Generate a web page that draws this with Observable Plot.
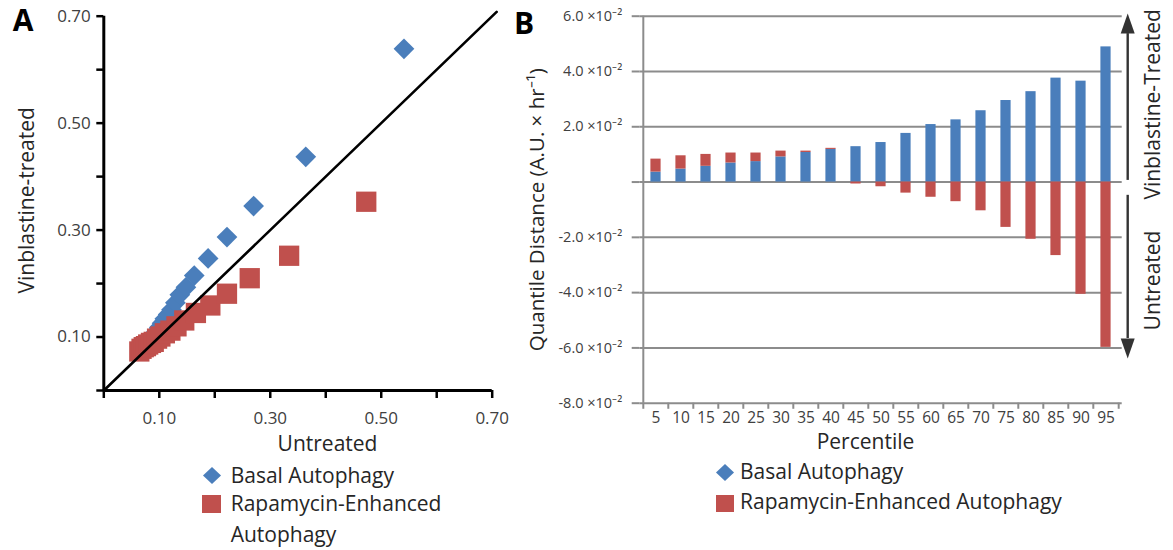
<!DOCTYPE html>
<html><head><meta charset="utf-8">
<script src="https://cdn.jsdelivr.net/npm/d3@7"></script>
<script src="https://cdn.jsdelivr.net/npm/@observablehq/plot@0.6"></script>
<style>
html,body{margin:0;padding:0;background:#fff;}
#root{position:relative;width:1173px;height:550px;font-family:"Open Sans",sans-serif;color:#262626;overflow:hidden;background:#fff;}
.lbl{position:absolute;font-family:"Open Sans",sans-serif;font-size:21px;line-height:30.5px;color:#262626;}
.panel{position:absolute;font-family:"Open Sans",sans-serif;font-weight:700;font-size:30px;line-height:1;color:#000;}
</style></head><body><div id="root"></div>
<script>
// ---------- data ----------
const percentiles = [5,10,15,20,25,30,35,40,45,50,55,60,65,70,75,80,85,90,95];
const seriesNames = ["Basal Autophagy", "Rapamycin-Enhanced Autophagy"];
const seriesColors = ["#4A7EBB", "#C0504D"];
// Panel A: quantile-quantile values (untreated vs vinblastine-treated)
const basalUntreated   = [0.074,0.080,0.085,0.090,0.095,0.100,0.105,0.110,0.116,0.122,0.129,0.137,0.148,0.163,0.188,0.222,0.270,0.364,0.541];
const basalVinblastine = [0.081,0.089,0.096,0.104,0.110,0.118,0.126,0.134,0.142,0.151,0.164,0.179,0.193,0.215,0.247,0.287,0.345,0.437,0.639];
const rapaUntreated    = [0.064,0.068,0.072,0.076,0.080,0.085,0.090,0.096,0.102,0.110,0.120,0.131,0.145,0.166,0.192,0.222,0.263,0.334,0.473];
const rapaVinblastine  = [0.073,0.078,0.081,0.083,0.086,0.089,0.091,0.097,0.101,0.107,0.112,0.120,0.131,0.145,0.159,0.181,0.210,0.252,0.353];
const identityLine = [0, 0.708];
const ticksA = [0,0.1,0.2,0.3,0.4,0.5,0.6,0.7];
const tickLabelsA = ["","0.10","","0.30","","0.50","","0.70"];
// Panel B: quantile distance (stacked)
const basalDistance = [0.0036,0.0047,0.0057,0.0069,0.0074,0.0091,0.0107,0.0118,0.0128,0.0143,0.0176,0.0208,0.0225,0.0258,0.0295,0.0327,0.0376,0.0365,0.0489];
const rapaDistance  = [0.0047,0.0048,0.0043,0.0036,0.0031,0.0021,0.0005,0.0004,-0.0007,-0.0017,-0.0040,-0.0055,-0.0071,-0.0104,-0.0164,-0.0207,-0.0266,-0.0406,-0.0598];
const ticksB = [-0.08,-0.06,-0.04,-0.02,0,0.02,0.04,0.06];
const tickLabelsB = ["-8.0 ×10⁻²","-6.0 ×10⁻²","-4.0 ×10⁻²","-2.0 ×10⁻²","","2.0 ×10⁻²","4.0 ×10⁻²","6.0 ×10⁻²"];
const sideLabels = ["Vinblastine-Treated", "Untreated"];
const sideLabelY = [0.0281, -0.0356];
const arrowSpans = [[0.0006, 0.0537], [-0.0048, -0.0566]];

const root = document.getElementById("root");
const gray = "#8C8C8C";

// custom symbols
const diamond = {draw(ctx, size){ const h = Math.sqrt(size)/2; ctx.moveTo(0,-h); ctx.lineTo(h,0); ctx.lineTo(0,h); ctx.lineTo(-h,0); ctx.closePath(); }};
const square = {draw(ctx, size){ const h = Math.sqrt(size)/2; ctx.moveTo(-h,-h); ctx.lineTo(h,-h); ctx.lineTo(h,h); ctx.lineTo(-h,h); ctx.closePath(); }};
const headUp = {draw(ctx){ ctx.moveTo(0,-20); ctx.lineTo(7,0); ctx.lineTo(-7,0); ctx.closePath(); }};
const headDown = {draw(ctx){ ctx.moveTo(0,20); ctx.lineTo(7,0); ctx.lineTo(-7,0); ctx.closePath(); }};

// ---------- Panel A ----------
const basalPts = percentiles.map((p,i)=>({p, x: basalUntreated[i], y: basalVinblastine[i]}));
const rapaPts = percentiles.map((p,i)=>({p, x: rapaUntreated[i], y: rapaVinblastine[i]}));
const plotA = Plot.plot({
  width: 500, height: 455,
  marginLeft: 103.3, marginRight: 8.3, marginTop: 15.7, marginBottom: 65,
  x: {domain: [0, 0.7], label: null},
  y: {domain: [0, 0.7], label: null},
  style: {fontFamily: '"Open Sans", sans-serif', fontSize: "17px", color: "#404040", background: "transparent", overflow: "visible"},
  marks: [
    Plot.dot(basalPts, {x: "x", y: "y", symbol: diamond, r: 11.7, fill: seriesColors[0], stroke: "none"}),
    Plot.dot(rapaPts, {x: "x", y: "y", symbol: square, r: 11.45, fill: seriesColors[1], stroke: "none"}),
    Plot.line(identityLine, {x: d => d, y: d => d, stroke: "#000", strokeWidth: 2.6}),
    Plot.ruleX([0], {stroke: "#000", strokeWidth: 3}),
    Plot.ruleY([0], {stroke: "#000", strokeWidth: 3}),
    Plot.axisX({ticks: ticksA, tickSize: 8, tickPadding: 13, tickFormat: d => tickLabelsA[Math.round(d*10)], stroke: "#000", strokeWidth: 2.5, fontSize: 17, label: null}),
    Plot.axisY({ticks: ticksA, tickSize: 7, tickPadding: 6, tickFormat: d => tickLabelsA[Math.round(d*10)], stroke: "#000", strokeWidth: 2.5, fontSize: 17, label: null}),
    Plot.text(["Untreated"], {text: d => d, frameAnchor: "bottom", textAnchor: "middle", lineAnchor: "middle", dx: 29.5, dy: 54, fontSize: 21, fill: "#262626"}),
    Plot.text(["Vinblastine-treated"], {text: d => d, frameAnchor: "left", textAnchor: "middle", lineAnchor: "middle", rotate: -90, dx: -76.3, dy: -3, fontSize: 21, fill: "#262626"})
  ]
});
plotA.style.position = "absolute"; plotA.style.left = "0px"; plotA.style.top = "0px";
root.appendChild(plotA);

// ---------- Panel B ----------
const barData = [
  ...percentiles.map((p,i)=>({p, v: basalDistance[i], s: seriesNames[0]})),
  ...percentiles.map((p,i)=>({p, v: rapaDistance[i], s: seriesNames[1]}))
];
const WB = 673, mLB = 139.3, mRB = 51.3;
const bw = (WB - mLB - mRB) / percentiles.length;
const last = percentiles[percentiles.length-1];
const plotB = Plot.plot({
  width: WB, height: 450,
  marginLeft: mLB, marginRight: mRB, marginTop: 15.7, marginBottom: 47.3,
  x: {type: "band", domain: percentiles, padding: 0, label: null},
  y: {domain: [-0.08, 0.06], label: null},
  color: {domain: seriesNames, range: seriesColors},
  style: {fontFamily: '"Open Sans", sans-serif', fontSize: "15px", color: "#404040", background: "transparent", overflow: "visible"},
  marks: [
    Plot.ruleY(ticksB, {stroke: gray, strokeWidth: 2}),
    Plot.barY(barData, {x: "p", y: "v", fill: "s", insetLeft: 7.4, insetRight: 7.4}),
    Plot.ruleX([percentiles[0]], {x: d => d, dx: -bw/2, y1: -0.08, y2: 0.06, stroke: gray, strokeWidth: 2}),
    Plot.ruleX(percentiles, {x: d => d, dx: -bw/2, y1: -0.08, y2: -0.0822, stroke: gray, strokeWidth: 2}),
    Plot.ruleX([last], {x: d => d, dx: bw/2, y1: -0.08, y2: -0.0822, stroke: gray, strokeWidth: 2}),
    Plot.axisY({ticks: ticksB, tickSize: 7.6, tickPadding: 10, tickFormat: d => tickLabelsB[Math.round((d+0.08)*50)], stroke: gray, strokeWidth: 2, fontSize: 14.5, label: null}),
    Plot.axisX({tickSize: 0, tickPadding: 9, fontSize: 15.5, label: null}),
    // arrows
    Plot.ruleX(arrowSpans, {x: () => last, dx: 21.7, y1: d => d[0], y2: d => d[1], stroke: "#333", strokeWidth: 2.4}),
    Plot.dot([arrowSpans[0]], {x: () => last, y: d => d[1], dx: 21.7, symbol: headUp, r: 5, fill: "#333", stroke: "none"}),
    Plot.dot([arrowSpans[1]], {x: () => last, y: d => d[1], dx: 21.7, symbol: headDown, r: 5, fill: "#333", stroke: "none"}),
    Plot.text(sideLabels, {x: () => last, y: (d,i) => sideLabelY[i], text: d => d, dx: 47, rotate: -90, textAnchor: "middle", lineAnchor: "middle", fontSize: 21, fill: "#262626"}),
    Plot.text(["Quantile Distance (A.U. × hr⁻¹)"], {text: d => d, frameAnchor: "left", textAnchor: "middle", lineAnchor: "middle", rotate: -90, dx: -102.3, fontSize: 20.5, fill: "#262626"}),
    Plot.text(["Percentile"], {text: d => d, frameAnchor: "bottom", textAnchor: "middle", lineAnchor: "middle", dx: -15.5, dy: 39.5, fontSize: 21, fill: "#262626"})
  ]
});
plotB.style.position = "absolute"; plotB.style.left = "500px"; plotB.style.top = "0px";
root.appendChild(plotB);

// ---------- panel letters ----------
function addDiv(cls, text, left, top, extra) {
  const d = document.createElement("div");
  d.className = cls; d.textContent = text;
  d.style.left = left + "px"; d.style.top = top + "px";
  if (extra) Object.assign(d.style, extra);
  root.appendChild(d);
  return d;
}
addDiv("panel", "A", 12.7, 4.8);
addDiv("panel", "B", 514, 8.1);

// ---------- legends ----------
function marker(kind, color, cx, cy, w, h) {
  const ns = "http://www.w3.org/2000/svg";
  const svg = document.createElementNS(ns, "svg");
  svg.setAttribute("width", w); svg.setAttribute("height", h);
  svg.style.position = "absolute";
  svg.style.left = (cx - w/2) + "px"; svg.style.top = (cy - h/2) + "px";
  const p = document.createElementNS(ns, "path");
  p.setAttribute("d", kind === "diamond" ? `M${w/2},0L${w},${h/2}L${w/2},${h}L0,${h/2}Z` : `M0,0H${w}V${h}H0Z`);
  p.setAttribute("fill", color);
  svg.appendChild(p);
  root.appendChild(svg);
}
// Legend A
marker("diamond", seriesColors[0], 211.7, 475.5, 18, 17);
marker("square", seriesColors[1], 211.2, 504.2, 19, 18);
addDiv("lbl", seriesNames[0], 230.7, 459.6, {whiteSpace: "nowrap"});
addDiv("lbl", seriesNames[1], 230.7, 488.1, {width: "225px"});
// Legend B
marker("diamond", seriesColors[0], 725, 472.3, 18, 17);
marker("square", seriesColors[1], 725, 503.4, 18, 17);
addDiv("lbl", seriesNames[0], 740, 455.8, {whiteSpace: "nowrap"});
addDiv("lbl", seriesNames[1], 740, 485.8, {whiteSpace: "nowrap"});
</script></body></html>
